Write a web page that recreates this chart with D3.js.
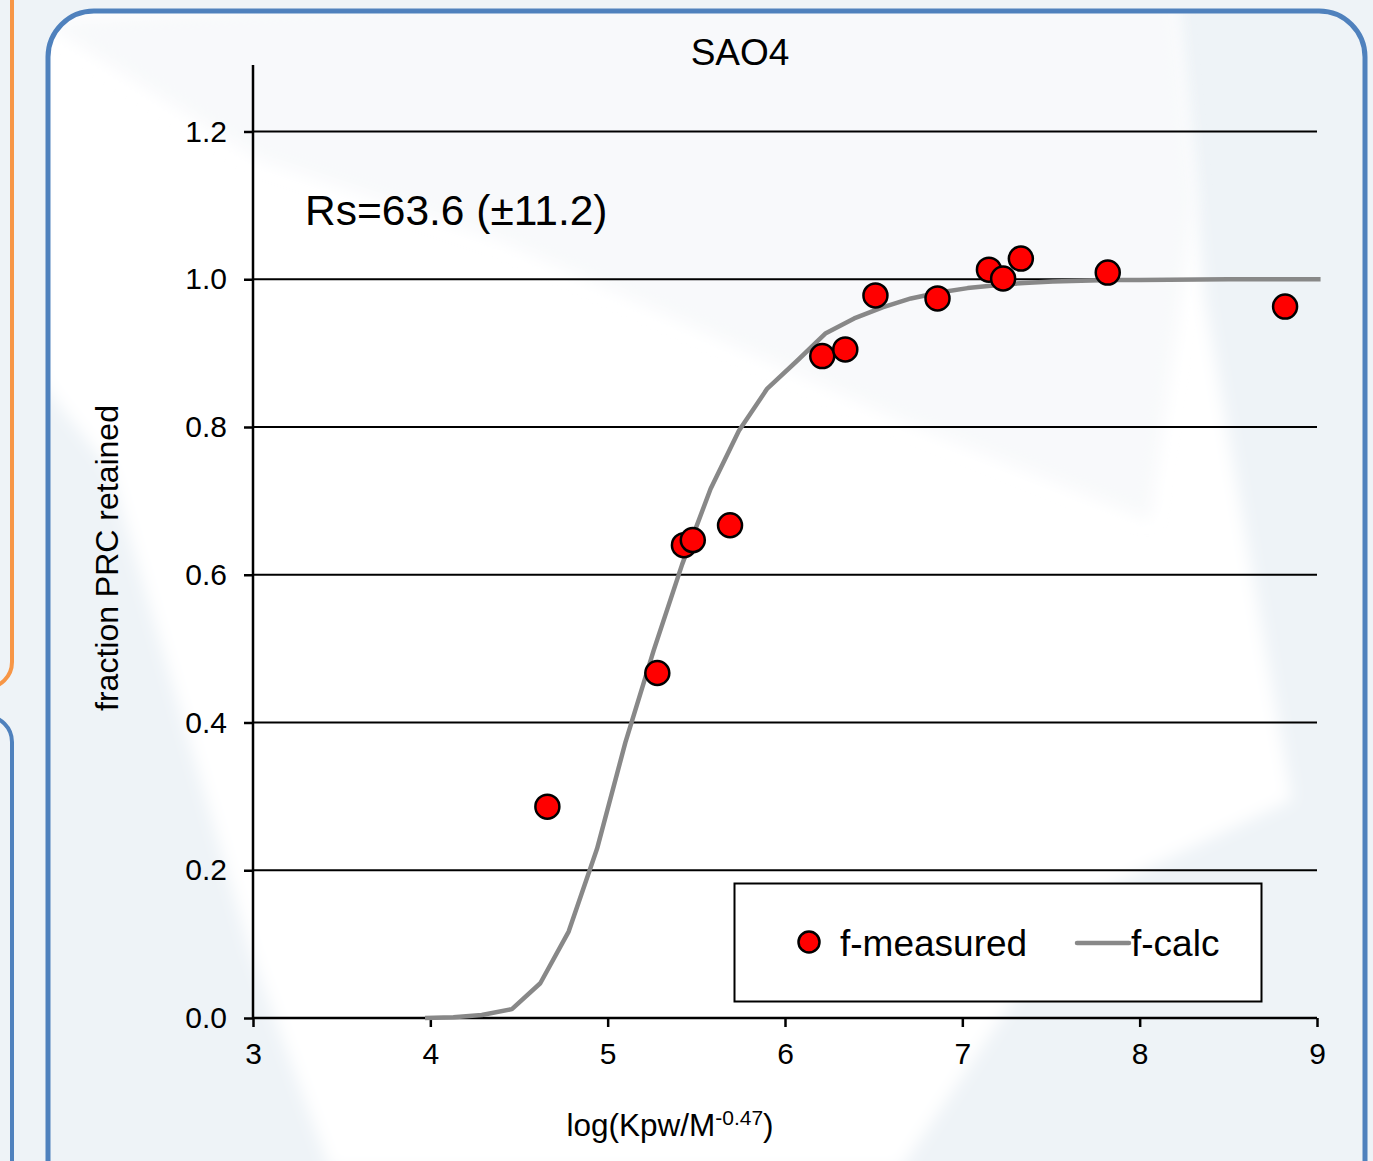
<!DOCTYPE html>
<html>
<head>
<meta charset="utf-8">
<script src="https://cdn.jsdelivr.net/npm/d3@7"></script>
<style>
  body { margin: 0; background: #eef3f7; }
  svg { display: block; font-family: "Liberation Sans", Arial, sans-serif; }
</style>
</head>
<body>
<script>
// measured points (log Kpw/M^-0.47, fraction retained)
const measuredX = [4.66, 5.28, 5.43, 5.48, 5.69, 6.21, 6.34, 6.51, 6.86, 7.15, 7.23, 7.33, 7.82, 8.82];
const measuredY = [0.286, 0.467, 0.640, 0.647, 0.667, 0.896, 0.905, 0.978, 0.974, 1.013, 1.001, 1.028, 1.009, 0.963];

// calculated curve
const calcX = [3.97, 4.13, 4.29, 4.46, 4.62, 4.78, 4.94, 5.10, 5.26, 5.42, 5.58, 5.74, 5.90, 6.07,
               6.23, 6.39, 6.55, 6.71, 6.87, 7.03, 7.19, 7.35, 7.51, 7.67, 7.83, 8.0, 8.5, 9.02];
const calcY = [0.0, 0.001, 0.004, 0.012, 0.047, 0.117, 0.229, 0.373, 0.498, 0.614, 0.716, 0.795, 0.852, 0.890,
               0.927, 0.947, 0.962, 0.974, 0.982, 0.988, 0.992, 0.995, 0.997, 0.998, 0.999, 0.999, 1.0, 1.0];

const xTicks = [3, 4, 5, 6, 7, 8, 9];
const yTicks = [0, 0.2, 0.4, 0.6, 0.8, 1.0, 1.2];

const W = 1373, H = 1161;
const svg = d3.select("body").append("svg").attr("width", W).attr("height", H);

// soft edges for the background shapes
svg.append("defs").append("filter").attr("id", "soft")
  .attr("x", "-10%").attr("y", "-10%").attr("width", "120%").attr("height", "120%")
  .append("feGaussianBlur").attr("stdDeviation", 8);
svg.append("clipPath").attr("id", "panel").append("rect")
  .attr("x", 48).attr("y", 11).attr("width", 1317).attr("height", 1200).attr("rx", 46);

// background decoration
svg.append("rect").attr("width", W).attr("height", H).attr("fill", "#eef3f7");
// left boxes
svg.append("rect").attr("x", -40).attr("y", -30).attr("width", 52).attr("height", 718)
  .attr("rx", 26).attr("fill", "none").attr("stroke", "#f79646").attr("stroke-width", 4);
svg.append("rect").attr("x", -40).attr("y", 716).attr("width", 52).attr("height", 500)
  .attr("rx", 26).attr("fill", "none").attr("stroke", "#4f81bd").attr("stroke-width", 4);

// panel fill + lighter shapes
const bg = svg.append("g").attr("clip-path", "url(#panel)");
bg.append("rect").attr("x", 48).attr("y", 11).attr("width", 1317).attr("height", 1200)
  .attr("fill", "#eef3f7");
bg.append("polygon")
  .attr("points", "40,0 1175,0 1205,300 1292,800 1080,900 900,1170 330,1170 250,950 110,470 40,380")
  .attr("fill", "#ffffff").attr("filter", "url(#soft)");
bg.append("polygon")
  .attr("points", "40,20 420,0 1175,0 1195,200 1150,520 900,420 500,240 260,160")
  .attr("fill", "#f8f9fb").attr("filter", "url(#soft)");
svg.append("rect").attr("x", 48).attr("y", 11).attr("width", 1317).attr("height", 1200)
  .attr("rx", 46).attr("fill", "none").attr("stroke", "#4f81bd").attr("stroke-width", 5);

// scales
const x = d3.scaleLinear().domain([3, 9]).range([253, 1317]);
const y = d3.scaleLinear().domain([0, 1.29]).range([1018, 65]);

// grid lines
svg.append("g").selectAll("line").data(yTicks.filter(d => d > 0)).join("line")
  .attr("x1", x(3)).attr("x2", x(9))
  .attr("y1", d => y(d)).attr("y2", d => y(d))
  .attr("stroke", "#000").attr("stroke-width", 2);

// axes
const yAxis = svg.append("g").attr("transform", `translate(${x(3)},0)`)
  .call(d3.axisLeft(y).tickValues(yTicks).tickFormat(d3.format(".1f")).tickSize(9).tickPadding(17));
const xAxis = svg.append("g").attr("transform", `translate(0,${y(0)})`)
  .call(d3.axisBottom(x).tickValues(xTicks).tickFormat(d3.format("d")).tickSize(9).tickPadding(16));
[xAxis, yAxis].forEach(a => {
  a.select(".domain").attr("stroke", "#000").attr("stroke-width", 2.5);
  a.selectAll(".tick line").attr("stroke", "#000").attr("stroke-width", 2.5);
  a.selectAll(".tick text").attr("font-size", 30).attr("fill", "#000")
    .attr("font-family", "Liberation Sans, Arial, sans-serif");
});
yAxis.select(".domain").attr("d", `M0,${y(0)}V${y(1.29)}`);
xAxis.select(".domain").attr("d", `M${x(3)},0H${x(9)}`);

// calculated curve
const calc = calcX.map((v, i) => [v, calcY[i]]);
svg.append("path").datum(calc)
  .attr("d", d3.line().x(d => x(d[0])).y(d => y(d[1])))
  .attr("fill", "none").attr("stroke", "#888888").attr("stroke-width", 4.5)
  .attr("stroke-linejoin", "round");

// measured points
const meas = measuredX.map((v, i) => [v, measuredY[i]]);
svg.append("g").selectAll("circle").data(meas).join("circle")
  .attr("cx", d => x(d[0])).attr("cy", d => y(d[1])).attr("r", 12)
  .attr("fill", "#ff0000").attr("stroke", "#000").attr("stroke-width", 2.5);

// title and annotation
svg.append("text").attr("x", 740).attr("y", 65).attr("text-anchor", "middle")
  .attr("font-size", 37).text("SAO4");
svg.append("text").attr("x", 305).attr("y", 225)
  .attr("font-size", 42.5).text("Rs=63.6 (\u00b111.2)");

// axis titles
svg.append("text").attr("transform", "translate(118,558) rotate(-90)").attr("text-anchor", "middle")
  .attr("font-size", 32).text("fraction PRC retained");
const xt = svg.append("text").attr("x", 670).attr("y", 1136).attr("text-anchor", "middle")
  .attr("font-size", 31.5);
xt.append("tspan").text("log(Kpw/M");
xt.append("tspan").attr("font-size", 21).attr("dy", -11).text("-0.47");
xt.append("tspan").attr("dy", 11).text(")");

// legend
const lg = svg.append("g");
lg.append("rect").attr("x", 734.5).attr("y", 883.5).attr("width", 527).attr("height", 118)
  .attr("fill", "#fff").attr("stroke", "#000").attr("stroke-width", 2);
lg.append("circle").attr("cx", 809).attr("cy", 942).attr("r", 10.5)
  .attr("fill", "#ff0000").attr("stroke", "#000").attr("stroke-width", 2.5);
lg.append("text").attr("x", 840).attr("y", 956).attr("font-size", 37).text("f-measured");
lg.append("line").attr("x1", 1077).attr("x2", 1129).attr("y1", 943).attr("y2", 943)
  .attr("stroke", "#888888").attr("stroke-width", 4.5).attr("stroke-linecap", "round");
lg.append("text").attr("x", 1131).attr("y", 956).attr("font-size", 37).text("f-calc");
</script>
</body>
</html>
